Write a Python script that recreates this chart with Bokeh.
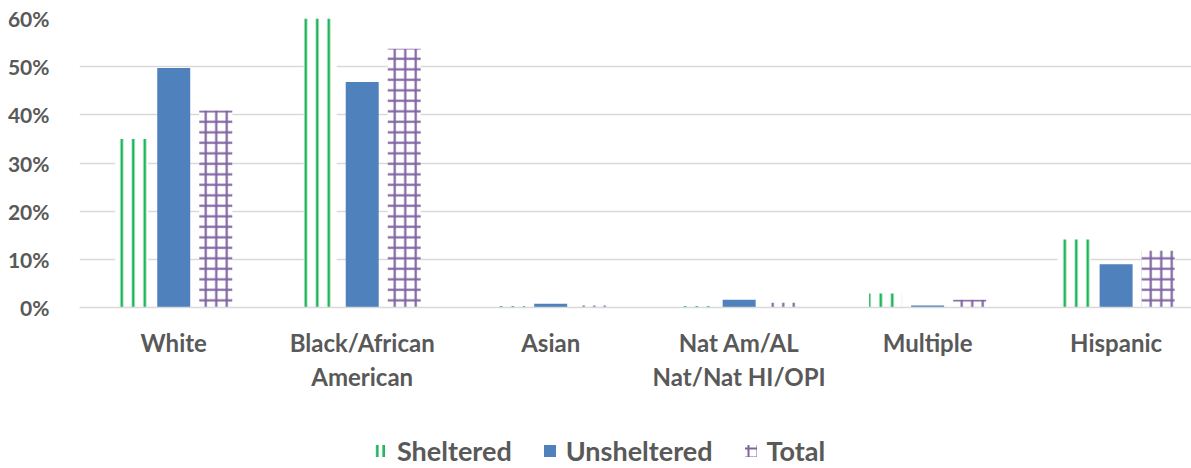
from bokeh.plotting import figure
from bokeh.layouts import column
from bokeh.models import (ColumnDataSource, FixedTicker, NumeralTickFormatter,
                          Legend, LegendItem, Range1d)
from bokeh.embed import file_html
from bokeh.resources import INLINE

categories = ["White", "Black/African\nAmerican", "Asian",
              "Nat Am/AL\nNat/Nat HI/OPI", "Multiple", "Hispanic"]
sheltered = [0.35, 0.60, 0.003, 0.003, 0.029, 0.141]
unsheltered = [0.497, 0.468, 0.008, 0.016, 0.004, 0.090]
total = [0.409, 0.537, 0.004, 0.010, 0.016, 0.118]
series_names = ["Sheltered", "Unsheltered", "Total"]
y_ticks = [0.0, 0.1, 0.2, 0.3, 0.4, 0.5, 0.6]

GREEN = "#1FB45A"
BLUE = "#4F81BD"
PURPLE = "#8064A2"
TEXT = "#595959"
FONT = "Lato"

centers = [i + 0.5 for i in range(len(categories))]
offset = 0.223
bar_w = 0.175

src = ColumnDataSource(dict(
    xs=[c - offset for c in centers],
    xu=centers,
    xt=[c + offset for c in centers],
    sheltered=sheltered, unsheltered=unsheltered, total=total,
))

p = figure(width=1191, height=425, output_backend="svg", toolbar_location=None,
           x_range=Range1d(0, 5.9), y_range=Range1d(0, 0.6),
           min_border_left=79, min_border_right=0, min_border_top=18,
           min_border_bottom=118)
p.outline_line_color = None
p.background_fill_color = "white"

bar_styles = [
    dict(fill_color="white", line_color=None, hatch_pattern="vertical_line",
         hatch_color=GREEN, hatch_scale=11.5, hatch_weight=2.6),
    dict(fill_color=BLUE, line_color=None),
    dict(fill_color="white", line_color=None, hatch_pattern="cross",
         hatch_color=PURPLE, hatch_scale=10.5, hatch_weight=2.2),
]
xcols = ["xs", "xu", "xt"]
ycols = ["sheltered", "unsheltered", "total"]
for xc, yc, st in zip(xcols, ycols, bar_styles):
    p.vbar(x=xc, top=yc, width=bar_w, source=src, **st)

# axes
p.yaxis.ticker = FixedTicker(ticks=y_ticks)
p.yaxis.formatter = NumeralTickFormatter(format="0%")
p.yaxis.axis_line_color = None
p.yaxis.major_tick_line_color = None
p.yaxis.minor_tick_line_color = None
p.yaxis.major_label_standoff = 24
p.yaxis.major_label_text_font = FONT
p.yaxis.major_label_text_font_style = "bold"
p.yaxis.major_label_text_font_size = "21px"
p.yaxis.major_label_text_color = TEXT

p.xaxis.ticker = FixedTicker(ticks=centers)
p.xaxis.major_label_overrides = {c: lab for c, lab in zip(centers, categories)}
p.xaxis.axis_line_color = "#D9D9D9"
p.xaxis.axis_line_width = 1.5
p.xaxis.major_tick_line_color = None
p.xaxis.minor_tick_line_color = None
p.xaxis.major_label_standoff = 14
p.xaxis.major_label_text_font = FONT
p.xaxis.major_label_text_font_style = "bold"
p.xaxis.major_label_text_font_size = "24px"
p.xaxis.major_label_text_color = TEXT
p.xaxis.major_label_text_line_height = 1.2

p.xgrid.grid_line_color = None
p.ygrid.ticker = FixedTicker(ticks=y_ticks)
p.ygrid.grid_line_color = "#D9D9D9"
p.ygrid.grid_line_width = 1.5
p.ygrid.level = "underlay"

# legend strip below the chart (its bars lie far outside its visible ranges)
lg = figure(width=1191, height=43, output_backend="svg", toolbar_location=None,
            x_axis_type=None, y_axis_type=None,
            x_range=Range1d(-100, -99), y_range=Range1d(-100, -99),
            min_border=0)
lg.outline_line_color = None
lg.grid.visible = False
legend_styles = [
    dict(fill_color="white", line_color=None, hatch_pattern="vertical_line",
         hatch_color=GREEN, hatch_scale=6.5, hatch_weight=2.6),
    dict(fill_color=BLUE, line_color=None),
    dict(fill_color="white", line_color=None, hatch_pattern="cross",
         hatch_color=PURPLE, hatch_scale=9, hatch_weight=2),
]
items = []
for name, xc, yc, st in zip(series_names, xcols, ycols, legend_styles):
    r = lg.vbar(x=xc, top=yc, width=bar_w, source=src, **st)
    items.append(LegendItem(label=name, renderers=[r]))

legend = Legend(items=items, orientation="horizontal", location=(294, 1))
legend.border_line_color = None
legend.background_fill_alpha = 0
legend.padding = 0
legend.margin = 0
legend.spacing = 30
legend.glyph_width = 15
legend.glyph_height = 15
legend.label_standoff = 9
legend.label_text_font = FONT
legend.label_text_font_style = "bold"
legend.label_text_font_size = "27px"
legend.label_text_color = TEXT
lg.add_layout(legend, "center")

layout = column(p, lg, spacing=0)
open("out.html", "w").write(file_html(layout, INLINE))
